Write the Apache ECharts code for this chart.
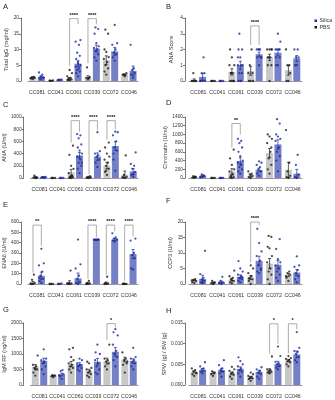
<!DOCTYPE html>
<html><head><meta charset="utf-8">
<script src="https://cdn.jsdelivr.net/npm/echarts@6/dist/echarts.min.js"></script>
<style>html,body{margin:0;padding:0;background:#fff}#c{width:335px;height:400px}</style>
</head><body><div id="c"></div>
<script>
// Strains on every x axis
const strains = ['CC081', 'CC041', 'CC061', 'CC039', 'CC072', 'CC046'];
const groupNames = ['Silica', 'PBS'];

// A: Total IgG (mg/ml)
const iggPbsMean = [1.05, 0.1, 0.7, 1.0, 6.6, 2.1];
const iggSilicaMean = [1.3, 0.4, 5.5, 10.3, 9.4, 3.2];
const iggPbsPts = [[0.6, 0.8, 1.0, 1.2, 1.3, 0.9], [0.05, 0.1, 0.2, 0.1], [0.2, 0.3, 0.5, 0.8, 1.0, 1.5, 2.5, 3.5, 0.4], [0.8, 1.0, 1.2, 4.3, 0.9], [2.0, 3.0, 4.0, 5.0, 6.0, 7.0, 7.6, 9.2, 10.0, 15.0, 16.3], [1.5, 2.0, 2.5, 2.0, 1.8]];
const iggSilicaPts = [[0.5, 0.8, 1.2, 1.5, 2.0, 2.7, 1.0], [0.2, 0.3, 0.5, 0.4], [1.5, 2.5, 3.0, 3.5, 4.0, 4.5, 5.0, 6.0, 7.0, 8.0, 9.0, 11.5, 12.5, 13.0, 5.5], [6.5, 7.5, 8.5, 9.5, 10.0, 10.5, 11.0, 12.0, 15.0, 16.5, 17.0], [6.5, 7.5, 8.5, 9.0, 10.0, 11.5, 12.0, 17.8], [1.0, 2.0, 2.5, 3.5, 4.0, 11.5]];
const iggBrackets = [[2, 19.8, 4.8, 18.0, '****'], [3, 19.8, 5.6, 18.0, '****']];

// B: ANA Score
const anaScorePbsMean = [0.05, 0, 0.58, 0.64, 1.5, 0.68];
const anaScoreSilicaMean = [0.26, 0, 1.0, 1.7, 1.8, 1.43];
const anaScorePbsPts = [[0, 0, 0, 0.5, 0, 0], [0, 0, 0, 0], [0, 0, 0, 0.5, 0.5, 1, 1, 1.5, 2, 0, 0.5], [0, 0, 0.5, 1, 2, 0.5, 0], [0, 1, 1, 1.5, 1.5, 2, 2, 2, 1.5, 2], [0, 0, 0.5, 1, 1, 2]];
const anaScoreSilicaPts = [[0, 0, 0.5, 0.5, 1.5, 0, 0], [0, 0, 0, 0], [0, 0, 0.5, 0.5, 1, 1, 1, 1.5, 2, 2, 3, 0, 1.5], [1, 1.5, 1.5, 2, 2, 2, 1.5, 2], [1, 1.5, 1.5, 2, 2, 2, 2.5, 3, 1, 2], [1, 1, 1.5, 1.5, 2, 2]];
const anaScoreBrackets = [[3, 3.5, 2.3, 2.3, '****']];

// C: ANA (U/ml)
const anaPbsMean = [16, 0, 92, 10, 205, 54];
const anaSilicaMean = [16, 0, 368, 350, 524, 108];
const anaPbsPts = [[0, 5, 10, 40, 0], [0, 0, 0, 0], [0, 5, 10, 20, 40, 80, 150, 200, 380, 530, 10, 30], [0, 5, 10, 20, 30, 5], [50, 100, 150, 200, 250, 300, 350, 400, 500, 580, 120], [0, 10, 20, 50, 370, 10]];
const anaSilicaPts = [[5, 10, 20, 15, 0, 5], [0, 0, 0, 0], [80, 150, 200, 250, 300, 350, 400, 450, 500, 550, 650, 700, 720, 250, 350], [180, 250, 300, 350, 370, 400, 440, 750], [120, 300, 450, 500, 600, 700, 750, 760, 400], [20, 50, 100, 150, 200, 230, 420, 60]];
const anaBrackets = [[2, 940, 580, 760, '****'], [3, 940, 60, 790, '****'], [4, 940, 630, 800, '****']];

// D: Chromatin (U/ml)
const chromPbsMean = [22, 0, 150, 52, 575, 187];
const chromSilicaMean = [50, 0, 390, 187, 770, 97];
const chromPbsPts = [[0, 10, 20, 40, 30], [0, 0, 0, 0], [0, 10, 20, 50, 80, 150, 200, 300, 450, 650, 30], [0, 20, 50, 80, 100, 150], [100, 200, 300, 450, 600, 800, 900, 950, 1000, 700], [0, 20, 50, 150, 350, 1100]];
const chromSilicaPts = [[20, 30, 50, 80, 60, 10], [0, 0, 5, 0], [100, 150, 200, 250, 300, 350, 400, 500, 600, 700, 800, 850, 900], [50, 100, 150, 200, 250, 300, 350, 380], [150, 400, 500, 600, 700, 850, 900, 950, 1000, 1250, 1350], [0, 20, 80, 300, 530]];
const chromBrackets = [[2, 1250, 700, 1000, '**']];

// E: ENA6 (U/ml)
const enaPbsMean = [10, 0, 10, 6, 5, 2];
const enaSilicaMean = [80, 0, 55, 429, 429, 290];
const enaPbsPts = [[0, 0, 10, 40, 90, 5], [0, 0, 0, 0], [0, 0, 5, 10, 130, 5], [0, 0, 5, 10, 30], [0, 0, 5, 10, 70], [0, 0, 0, 5]];
const enaSilicaPts = [[10, 30, 50, 80, 120, 180, 200, 340, 60], [0, 0, 5, 0], [0, 10, 20, 50, 80, 150, 190, 430], [425, 428, 430, 430, 432, 430, 428], [410, 420, 430, 440, 450, 490, 430], [140, 150, 250, 280, 300, 420, 440]];
const enaBrackets = [[0, 570, 110, 370, '**'], [3, 570, 50, 450, '****'], [4, 570, 90, 510, '****'], [5, 570, 30, 460, '****']];

// F: CCP3 (U/ml)
const ccpPbsMean = [1.2, 0.5, 1.4, 2.1, 6.6, 2.9];
const ccpSilicaMean = [1.6, 0.6, 2.3, 7.5, 6.2, 3.7];
const ccpPbsPts = [[0.3, 0.6, 1.0, 1.3, 1.6, 1.2], [0, 0.2, 0.5, 1.0, 0.3], [0.2, 0.5, 1.0, 1.5, 2.0, 2.5, 4.3, 1.2], [0, 1.0, 1.5, 2.0, 2.5, 3.5, 5.0, 6.0, 1.8], [0, 1.5, 3.0, 4.0, 5.0, 7.0, 9.0, 11.5, 12.0, 15.2, 15.5], [1.0, 2.0, 3.0, 3.5, 4.0, 2.5]];
const ccpSilicaPts = [[0.2, 0.5, 1.0, 1.5, 2.0, 3.2, 10.7, 1.2], [0, 0.2, 0.5, 1.0, 2.3, 0.4], [0.5, 1.0, 1.5, 2.0, 2.5, 3.0, 4.0, 5.0, 7.4, 2.2], [3.5, 4.0, 5.0, 6.0, 7.5, 9.0, 10.5, 13.2, 17.8, 4.5], [1.0, 2.0, 3.0, 4.0, 5.0, 6.0, 7.0, 8.0, 11.3, 14.5], [0.5, 1.5, 2.5, 3.5, 4.5, 5.5, 6.0, 8.9]];
const ccpBrackets = [[3, 20, 7, 19, '****']];

// G: IgM RF (ng/ml)
const rfPbsMean = [590, 300, 675, 450, 770, 820];
const rfSilicaMean = [780, 340, 675, 750, 1070, 770];
const rfPbsPts = [[300, 400, 500, 550, 600, 650, 950, 500], [250, 280, 300, 320, 300], [400, 500, 550, 600, 650, 700, 800, 900, 1150, 1200], [250, 300, 350, 400, 450, 500, 550, 700, 750], [500, 600, 700, 750, 800, 850, 1300], [400, 650, 700, 800, 850, 1050, 750]];
const rfSilicaPts = [[350, 500, 600, 700, 750, 800, 850, 1150], [200, 280, 350, 450, 480, 320], [450, 500, 550, 600, 650, 700, 800, 850, 600], [350, 400, 500, 600, 700, 800, 1000, 1300, 1050], [600, 800, 900, 1000, 1100, 1300, 1600, 1800, 1700], [500, 600, 700, 750, 800, 850, 900, 1200]];
const rfBrackets = [[4, 1980, 1450, 1860, '*']];

// H: SPW (g) / BW (g)
const spwPbsMean = [0.0032, 0.0030, 0.0028, 0.0018, 0.0034, 0.0059];
const spwSilicaMean = [0.0036, 0.0036, 0.0039, 0.0032, 0.0051, 0.0074];
const spwPbsPts = [[0.0022, 0.0026, 0.0030, 0.0033, 0.0036, 0.0040, 0.0028], [0.0022, 0.0026, 0.0030, 0.0033, 0.0028], [0.0015, 0.0020, 0.0025, 0.0028, 0.0030, 0.0034, 0.0038, 0.0044], [0.0010, 0.0014, 0.0016, 0.0018, 0.0020, 0.0022, 0.0026, 0.0030], [0.0028, 0.0030, 0.0032, 0.0034, 0.0036, 0.0038, 0.0069], [0.0045, 0.0050, 0.0055, 0.0058, 0.0060, 0.0063, 0.0065, 0.0070]];
const spwSilicaPts = [[0.0028, 0.0032, 0.0035, 0.0038, 0.0040, 0.0045, 0.0055], [0.0020, 0.0028, 0.0032, 0.0036, 0.0040, 0.0048, 0.0060, 0.0034], [0.0020, 0.0028, 0.0032, 0.0036, 0.0040, 0.0045, 0.0050, 0.0058, 0.0067], [0.0015, 0.0020, 0.0026, 0.0030, 0.0034, 0.0038, 0.0043], [0.0038, 0.0042, 0.0046, 0.0050, 0.0052, 0.0056, 0.0070, 0.0093], [0.0055, 0.0060, 0.0068, 0.0075, 0.0080, 0.0082, 0.0090, 0.0128]];
const spwBrackets = [[4, 0.0148, 0.0076, 0.0100, '*'], [5, 0.0148, 0.0076, 0.0135, '*']];

// Axis titles and ranges
const axisTitles = ['Total IgG (mg/ml)', 'ANA Score', 'ANA (U/ml)', 'Chromatin (U/ml)', 'ENA6 (U/ml)', 'CCP3 (U/ml)', 'IgM RF (ng/ml)', 'SPW (g) / BW (g)'];
const axisMax = [20, 4, 1000, 1400, 600, 20, 2000, 0.015];
const axisStep = [5, 1, 200, 200, 100, 5, 500, 0.005];
const panelLetters = ['A', 'B', 'C', 'D', 'E', 'F', 'G', 'H'];

const panelData = [
  [iggPbsMean, iggSilicaMean, iggPbsPts, iggSilicaPts, iggBrackets],
  [anaScorePbsMean, anaScoreSilicaMean, anaScorePbsPts, anaScoreSilicaPts, anaScoreBrackets],
  [anaPbsMean, anaSilicaMean, anaPbsPts, anaSilicaPts, anaBrackets],
  [chromPbsMean, chromSilicaMean, chromPbsPts, chromSilicaPts, chromBrackets],
  [enaPbsMean, enaSilicaMean, enaPbsPts, enaSilicaPts, enaBrackets],
  [ccpPbsMean, ccpSilicaMean, ccpPbsPts, ccpSilicaPts, ccpBrackets],
  [rfPbsMean, rfSilicaMean, rfPbsPts, rfSilicaPts, rfBrackets],
  [spwPbsMean, spwSilicaMean, spwPbsPts, spwSilicaPts, spwBrackets]
];

// Layout
const rowTop = [18, 117, 222, 323];
const rowHeight = [63, 61, 62, 62];
const colLeft = [28, 189];
const colWidth = [110, 113];
const yOffset = [7, 4];
const letterPos = [[3, 3], [166, 3], [3, 101], [166, 99], [3, 201], [166, 197], [3, 306], [166, 307]];

const BAR_W = 7;
const HALF = 4.2; // distance from category centre to each bar centre
const GREY = '#c8c8c8', BLUE = '#7580c6', DOT_BLUE = '#1b2a9a', DOT_DARK = '#1a1a1a';
const TXT = '#333';
const JITTER = [0, -1.8, 1.8, -0.9, 0.9, -2.4, 2.4];

function sem(a) {
  const n = a.length;
  if (n < 2) return 0;
  const m = a.reduce((s, v) => s + v, 0) / n;
  const v = a.reduce((s, x) => s + (x - m) * (x - m), 0) / (n - 1);
  return Math.sqrt(v / n);
}

const grids = [], xAxes = [], yAxes = [], series = [], graphics = [];

panelData.forEach((pd, p) => {
  const col = p % 2, row = Math.floor(p / 2);
  const [pbsMean, silMean, pbsPts, silPts, brackets] = pd;
  grids.push({ left: colLeft[col], top: rowTop[row], width: colWidth[col], height: rowHeight[row] });
  xAxes.push({
    gridIndex: p, type: 'category', data: strains, offset: 6,
    axisLine: { show: true, lineStyle: { color: '#999', width: 1.2 } },
    axisTick: { show: false },
    axisLabel: { fontSize: 5.2, color: TXT, margin: 3, fontFamily: 'Liberation Sans', interval: 0 }
  });
  yAxes.push({
    gridIndex: p, type: 'value', min: 0, max: axisMax[p], interval: axisStep[p], offset: yOffset[col],
    name: axisTitles[p], nameLocation: 'middle', nameGap: 11,
    nameTextStyle: { fontSize: 5.6, color: TXT, fontFamily: 'Liberation Sans' },
    axisLine: { show: true, lineStyle: { color: '#555', width: 0.8 } },
    axisTick: { show: true, length: 2, lineStyle: { color: '#555', width: 0.8 } },
    axisLabel: {
      fontSize: 4.8, color: TXT, margin: 2, fontFamily: 'Liberation Sans',
      formatter: v => axisStep[p] < 0.01 ? v.toFixed(3) : String(v)
    },
    splitLine: { show: false }
  });

  // mean bars
  series.push({ type: 'bar', name: 'PBS', xAxisIndex: p, yAxisIndex: p, data: pbsMean, barWidth: BAR_W, barGap: '20%', itemStyle: { color: GREY }, silent: true });
  series.push({ type: 'bar', name: 'Silica', xAxisIndex: p, yAxisIndex: p, data: silMean, barWidth: BAR_W, barGap: '20%', itemStyle: { color: BLUE }, silent: true });

  // individual animals
  [[pbsPts, -HALF, DOT_DARK, 'PBS'], [silPts, HALF, DOT_BLUE, 'Silica']].forEach(([pts, side, color, nm]) => {
    const d = [];
    pts.forEach((arr, c) => arr.forEach((v, i) => d.push({ value: [c, v], symbolOffset: [side + JITTER[i % JITTER.length], 0] })));
    series.push({ type: 'scatter', name: nm, xAxisIndex: p, yAxisIndex: p, data: d, symbol: 'circle', symbolSize: 2.3, itemStyle: { color: color }, silent: true, z: 3 });
  });

  // mean ± SEM
  [[pbsMean, pbsPts, -HALF, DOT_DARK], [silMean, silPts, HALF, DOT_BLUE]].forEach(([means, pts, side, color]) => {
    series.push({
      type: 'custom', xAxisIndex: p, yAxisIndex: p, silent: true, z: 4,
      data: means.map((m, c) => [c, m, sem(pts[c])]),
      renderItem: (params, api) => {
        const c = api.value(0), m = api.value(1), s = api.value(2);
        if (s <= 0) return null;
        const t = api.coord([c, m + s]), b = api.coord([c, Math.max(0, m - s)]);
        const x = t[0] + side;
        const st = { stroke: color, lineWidth: 0.7 };
        return { type: 'group', children: [
          { type: 'line', shape: { x1: x, y1: t[1], x2: x, y2: b[1] }, style: st },
          { type: 'line', shape: { x1: x - 1.5, y1: t[1], x2: x + 1.5, y2: t[1] }, style: st },
          { type: 'line', shape: { x1: x - 1.5, y1: b[1], x2: x + 1.5, y2: b[1] }, style: st }
        ] };
      }
    });
  });

  // significance brackets
  if (brackets.length) {
    series.push({
      type: 'custom', xAxisIndex: p, yAxisIndex: p, silent: true, clip: false, z: 5,
      data: brackets.map(b => [b[0], b[1], b[2], b[3]]),
      renderItem: (params, api) => {
        const c = api.value(0);
        const top = api.coord([c, api.value(1)]);
        const l = api.coord([c, api.value(2)]);
        const r = api.coord([c, api.value(3)]);
        const xl = top[0] - HALF, xr = top[0] + HALF;
        const st = { stroke: '#8a8a8a', lineWidth: 0.7, fill: null };
        return { type: 'group', children: [
          { type: 'polyline', shape: { points: [[xl, l[1]], [xl, top[1]], [xr, top[1]], [xr, r[1]]] }, style: st },
          { type: 'text', style: { text: brackets[params.dataIndex][4], x: top[0], y: top[1] - 0.5, align: 'center', verticalAlign: 'bottom', fontSize: 5.5, fontWeight: 'bold', fill: '#111', fontFamily: 'Liberation Sans' } }
        ] };
      }
    });
  }

  graphics.push({ type: 'text', left: letterPos[p][0], top: letterPos[p][1], style: { text: panelLetters[p], fontSize: 7.5, fill: '#222', fontFamily: 'Liberation Sans' } });
});

// legend entries drawn as plain marks beside panel B
const legendItems = [['Silica', DOT_BLUE], ['PBS', DOT_DARK]];
legendItems.forEach(([label, color], i) => {
  graphics.push({ type: 'rect', shape: { x: 314.5, y: 19.5 + i * 6.5, width: 2.5, height: 2.5 }, style: { fill: color } });
  graphics.push({ type: 'text', x: 319.5, y: 20.8 + i * 6.5, style: { text: label, fontSize: 5.3, fill: TXT, fontFamily: 'Liberation Sans', verticalAlign: 'middle' } });
});

const chart = echarts.init(document.getElementById('c'), null, { renderer: 'canvas' });
chart.setOption({
  animation: false,
  backgroundColor: '#fff',
  grid: grids,
  xAxis: xAxes,
  yAxis: yAxes,
  series: series,
  graphic: graphics
});
</script>
</body></html>
